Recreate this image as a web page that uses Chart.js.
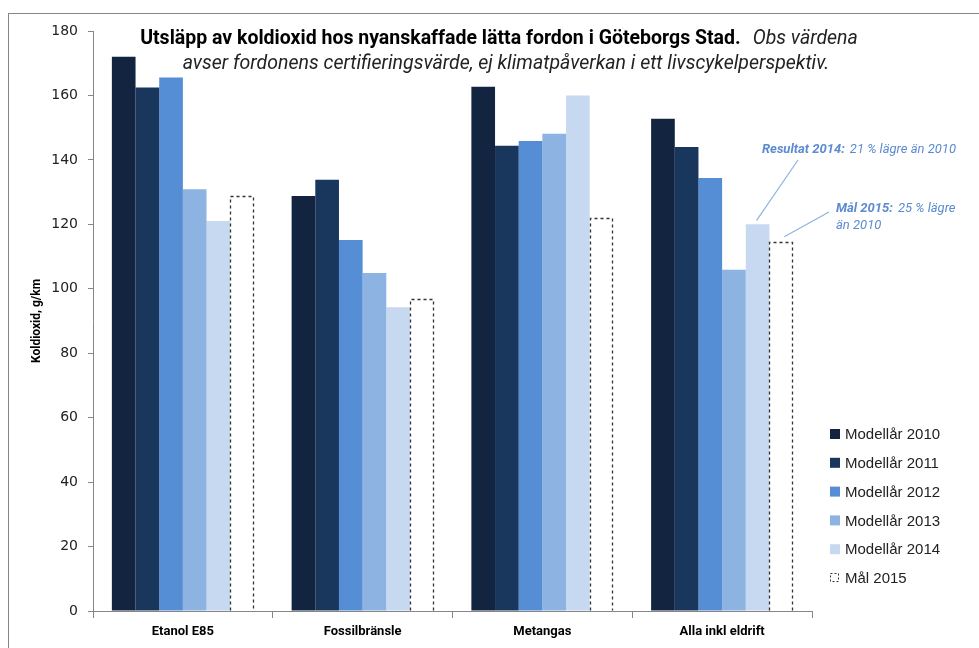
<!DOCTYPE html>
<html>
<head>
<meta charset="utf-8">
<script src="https://cdn.jsdelivr.net/npm/chart.js@4"></script>
<style>
  html, body { margin: 0; padding: 0; background: #fff; }
  #wrap { width: 979px; height: 648px; position: relative; }
</style>
</head>
<body>
<div id="wrap"><canvas id="co2Chart" width="979" height="648"></canvas></div>
<script>
// Data
const categories = ['Etanol E85', 'Fossilbränsle', 'Metangas', 'Alla inkl eldrift']
const seriesNames = ['Modellår 2010', 'Modellår 2011', 'Modellår 2012', 'Modellår 2013', 'Modellår 2014', 'Mål 2015']
const values2010 = [172, 128.8, 162.7, 152.8]
const values2011 = [162.5, 133.8, 144.4, 144]
const values2012 = [165.6, 115.1, 145.9, 134.4]
const values2013 = [130.9, 104.9, 148.1, 105.9]
const values2014 = [121, 94.3, 160, 120]
const target2015 = [128.9, 96.8, 122, 114.6]
const yTicks = [0, 20, 40, 60, 80, 100, 120, 140, 160, 180]

const colors = ['#12243f', '#19365c', '#558ed5', '#8db3e2', '#c6d9f1', '#ffffff']
const seriesValues = [values2010, values2011, values2012, values2013, values2014, target2015]

const axisGrey = '#868686'
const noteBlue = '#5b8bd0'

const datasets = seriesValues.map((vals, i) => ({
  label: seriesNames[i],
  data: vals,
  backgroundColor: colors[i],
  borderWidth: 0,
  categoryPercentage: 0.79,
  barPercentage: 1.0
}))

// Frame, title, dashed target bars, notes and legend
const extras = {
  id: 'extras',
  beforeDraw(chart) {
    const ctx = chart.ctx
    ctx.save()
    ctx.fillStyle = '#fff'
    ctx.fillRect(0, 0, chart.width, chart.height)
    ctx.strokeStyle = axisGrey
    ctx.lineWidth = 1
    ctx.strokeRect(8.5, 13.5, chart.width + 20, chart.height + 20)
    ctx.restore()
  },
  afterDatasetsDraw(chart) {
    const ctx = chart.ctx
    const meta = chart.getDatasetMeta(5)
    ctx.save()
    ctx.strokeStyle = '#333'
    ctx.lineWidth = 1.3
    ctx.setLineDash([3, 3])
    meta.data.forEach(bar => {
      const l = Math.round(bar.x - bar.width / 2) + 0.5
      const r = Math.round(bar.x + bar.width / 2) - 0.5
      const t = Math.round(bar.y) + 0.5
      ctx.beginPath()
      ctx.moveTo(l, bar.base)
      ctx.lineTo(l, t)
      ctx.lineTo(r, t)
      ctx.lineTo(r, bar.base)
      ctx.stroke()
    })
    ctx.restore()
  },
  afterDraw(chart) {
    const ctx = chart.ctx
    ctx.save()

    // Title, two lines, mixed bold and italic
    const bold = 'bold 19.5px Roboto'
    const ital = 'italic 19.5px Roboto'
    const t1a = 'Utsläpp av koldioxid hos nyanskaffade lätta fordon i Göteborgs Stad.'
    const t1b = 'Obs värdena'
    const t2 = 'avser fordonens certifieringsvärde, ej klimatpåverkan i ett livscykelperspektiv.'
    ctx.fillStyle = '#000'
    ctx.textBaseline = 'alphabetic'
    ctx.font = bold
    const w1a = ctx.measureText(t1a).width
    ctx.font = ital
    const w1b = ctx.measureText(t1b).width
    const gap = 12
    let x = 499 - (w1a + gap + w1b) / 2
    ctx.font = bold
    ctx.fillText(t1a, x, 44)
    ctx.font = ital
    ctx.fillStyle = '#222'
    ctx.fillText(t1b, x + w1a + gap, 44)
    ctx.textAlign = 'center'
    ctx.fillText(t2, 506, 69)
    ctx.textAlign = 'left'

    // Notes pointing at the last group
    const bar14 = chart.getDatasetMeta(4).data[3]
    const bar15 = chart.getDatasetMeta(5).data[3]
    ctx.strokeStyle = '#8db3e2'
    ctx.lineWidth = 1.2
    ctx.beginPath()
    ctx.moveTo(798, 160)
    ctx.lineTo(bar14.x - 1, bar14.y - 4)
    ctx.moveTo(829, 212)
    ctx.lineTo(bar15.x + 3, bar15.y - 5)
    ctx.stroke()

    ctx.fillStyle = noteBlue
    ctx.font = 'italic bold 13px Roboto'
    ctx.fillText('Resultat 2014:', 762, 153)
    let w = ctx.measureText('Resultat 2014:').width
    ctx.font = 'italic 13px Roboto'
    ctx.fillText('21 % lägre än 2010', 762 + w + 5, 153)
    ctx.font = 'italic bold 13px Roboto'
    ctx.fillText('Mål 2015:', 836, 212)
    w = ctx.measureText('Mål 2015:').width
    ctx.font = 'italic 13px Roboto'
    ctx.fillText('25 % lägre', 836 + w + 5, 212)
    ctx.fillText('än 2010', 836, 229)

    // Legend
    ctx.font = '15px "Liberation Sans"'
    ctx.textBaseline = 'middle'
    seriesNames.forEach((name, i) => {
      const y = 434 + i * 28.8
      if (i < 5) {
        ctx.fillStyle = colors[i]
        ctx.fillRect(830, y - 5, 10, 10)
      } else {
        ctx.strokeStyle = '#333'
        ctx.lineWidth = 1
        ctx.setLineDash([2, 2])
        ctx.strokeRect(830.5, y - 4.5, 8, 8)
        ctx.setLineDash([])
      }
      ctx.fillStyle = '#222'
      ctx.fillText(name, 845, y + 1)
    })
    ctx.restore()
  }
}

new Chart(document.getElementById('co2Chart'), {
  type: 'bar',
  data: { labels: categories, datasets: datasets },
  options: {
    responsive: false,
    animation: false,
    layout: { padding: { left: 0, top: 31, right: 167, bottom: 0 } },
    plugins: {
      legend: { display: false },
      tooltip: { enabled: false }
    },
    scales: {
      x: {
        afterFit: s => { s.height = 37 },
        grid: {
          drawOnChartArea: false,
          offset: true,
          color: axisGrey,
          tickLength: 7
        },
        border: { color: axisGrey },
        ticks: {
          color: '#000',
          padding: 6,
          font: { family: 'Roboto', weight: 'bold', size: 13 }
        }
      },
      y: {
        min: 0,
        max: 180,
        afterFit: s => { s.width = 93 },
        afterBuildTicks: s => { s.ticks = yTicks.map(v => ({ value: v })) },
        grid: {
          drawOnChartArea: false,
          color: axisGrey,
          tickLength: 5
        },
        border: { color: axisGrey },
        ticks: {
          color: '#222',
          padding: 10,
          font: { family: 'DejaVu Sans', size: 14 }
        },
        title: {
          display: true,
          text: 'Koldioxid, g/km',
          color: '#000',
          padding: { top: 30, bottom: 0 },
          font: { family: 'Roboto', weight: 'bold', size: 12 }
        }
      }
    }
  },
  plugins: [extras]
})
</script>
</body>
</html>
